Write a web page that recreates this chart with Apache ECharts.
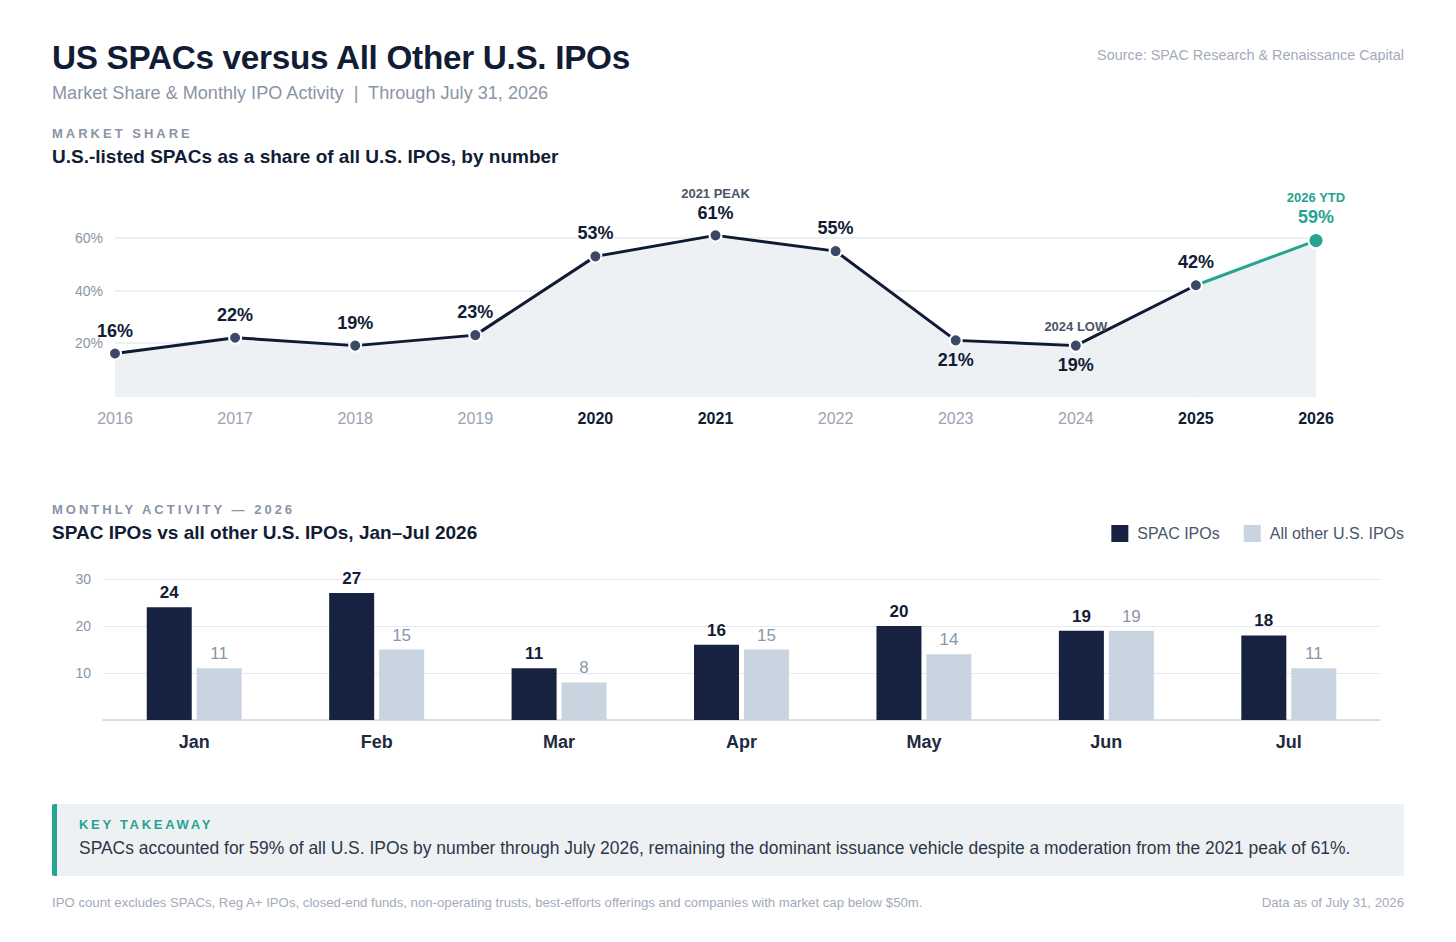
<!DOCTYPE html>
<html>
<head>
<meta charset="utf-8">
<script src="https://cdn.jsdelivr.net/npm/echarts@6/dist/echarts.min.js"></script>
<style>
  html, body { margin: 0; padding: 0; background: #ffffff; }
  body { width: 1456px; height: 942px; position: relative; overflow: hidden;
         font-family: "Liberation Sans", Arial, Helvetica, sans-serif; }
  #chart { position: absolute; left: 0; top: 0; width: 1456px; height: 942px; }
  .t { position: absolute; white-space: nowrap; z-index: 2; }
  #title { left: 52px; top: 38px; font-size: 33.3px; line-height: 40px; font-weight: bold; color: #111c35; letter-spacing: -0.3px; }
  #subtitle { left: 52px; top: 82px; font-size: 18.1px; line-height: 22px; color: #8a94a6; }
  #source { right: 52px; top: 46px; font-size: 14.4px; line-height: 18px; color: #a3abb8; }
  .kicker { font-size: 13px; line-height: 16px; font-weight: bold; color: #8a94a6; letter-spacing: 3px; }
  .h2 { font-size: 19px; line-height: 22px; font-weight: bold; color: #111c35; }
  #k1 { left: 52px; top: 126px; }
  #h1 { left: 52px; top: 146px; }
  #k2 { left: 52px; top: 502px; }
  #h2b { left: 52px; top: 522px; }
  #box { position: absolute; left: 52px; top: 804px; width: 1352px; height: 72px; background: #eef1f4;
         border-left: 5px solid #26a491; box-sizing: border-box; z-index: 1; border-radius: 2px; }
  #ktitle { left: 79px; top: 817px; font-size: 13px; line-height: 16px; font-weight: bold; color: #26a491; letter-spacing: 2.7px; }
  #kbody { left: 79px; top: 837px; font-size: 17.45px; line-height: 22px; color: #2d3748; }
  #foot1 { left: 52px; top: 895px; font-size: 13.2px; line-height: 15px; color: #a3abb8; }
  #foot2 { right: 52px; top: 895px; font-size: 13.2px; line-height: 15px; color: #a3abb8; }
</style>
</head>
<body>
<div id="chart"></div>
<div class="t" id="title">US SPACs versus All Other U.S. IPOs</div>
<div class="t" id="subtitle">Market Share &amp; Monthly IPO Activity &nbsp;|&nbsp; Through July 31, 2026</div>
<div class="t" id="source">Source: SPAC Research &amp; Renaissance Capital</div>
<div class="t kicker" id="k1">MARKET SHARE</div>
<div class="t h2" id="h1">U.S.-listed SPACs as a share of all U.S. IPOs, by number</div>
<div class="t kicker" id="k2">MONTHLY ACTIVITY — 2026</div>
<div class="t h2" id="h2b">SPAC IPOs vs all other U.S. IPOs, Jan–Jul 2026</div>
<div id="box"></div>
<div class="t" id="ktitle">KEY TAKEAWAY</div>
<div class="t" id="kbody">SPACs accounted for 59% of all U.S. IPOs by number through July 2026, remaining the dominant issuance vehicle despite a moderation from the 2021 peak of 61%.</div>
<div class="t" id="foot1">IPO count excludes SPACs, Reg A+ IPOs, closed-end funds, non-operating trusts, best-efforts offerings and companies with market cap below $50m.</div>
<div class="t" id="foot2">Data as of July 31, 2026</div>

<script>
// ---- Data ----
const years = ['2016','2017','2018','2019','2020','2021','2022','2023','2024','2025','2026'];
const spacShare = [16, 22, 19, 23, 53, 61, 55, 21, 19, 42, 59];
const boldYears = ['2020','2021','2025','2026'];
const shareTicks = [0, 20, 40, 60];

const months = ['Jan','Feb','Mar','Apr','May','Jun','Jul'];
const spacIPOs = [24, 27, 11, 16, 20, 19, 18];
const otherIPOs = [11, 15, 8, 15, 14, 19, 11];
const countTicks = [0, 10, 20, 30];

// ---- Styles ----
const FONT = '"Liberation Sans", Arial, Helvetica, sans-serif';
const NAVY = '#0f1a33';
const DOT = '#3b4866';
const TEAL = '#26a491';
const AREA = '#eef1f4';
const GRID = '#e6eaf0';
const AXISGREY = '#8a94a6';

const lastIdx = years.length - 1;
const mainData = spacShare.map((v, i) => {
  if (i === lastIdx) return null;
  const item = { value: v };
  if (years[i] === '2021') {
    item.label = { formatter: '{s|2021 PEAK}\n{v|' + v + '%}', distance: 5 };
  } else if (years[i] === '2023') {
    item.label = { position: 'bottom', distance: 3 };
  } else if (years[i] === '2024') {
    item.label = { position: 'inside', offset: [0, 0], formatter: '{s|2024 LOW}\n{g| }\n{v|' + v + '%}' };
  }
  return item;
});
const ytdData = spacShare.map((v, i) => {
  if (i === lastIdx) {
    return { value: v, symbolSize: 15, itemStyle: { color: TEAL, borderColor: '#fff', borderWidth: 2 },
      label: { show: true, position: 'top', distance: 5,
        formatter: '{s|2026 YTD}\n{v|' + v + '%}',
        rich: { s: { fontSize: 13, fontWeight: 'bold', color: TEAL, lineHeight: 20, fontFamily: FONT },
                v: { fontSize: 18, fontWeight: 'bold', color: TEAL, lineHeight: 20, fontFamily: FONT } } } };
  }
  if (i === lastIdx - 1) return { value: v, symbol: 'none', label: { show: false } };
  return null;
});

const chart = echarts.init(document.getElementById('chart'), null, { renderer: 'svg' });
chart.setOption({
  animation: false,
  textStyle: { fontFamily: FONT },
  legend: {
    data: ['SPAC IPOs', 'All other U.S. IPOs'],
    right: 47, top: 520,
    icon: 'rect', itemWidth: 17, itemHeight: 17, itemGap: 24,
    textStyle: { fontSize: 16, color: '#4a5568', fontFamily: FONT, padding: [0, 0, 0, 4] }
  },
  grid: [
    { left: 115, right: 140, top: 238, height: 157.5, containLabel: false },
    { left: 103, right: 76, top: 579, height: 141, containLabel: false }
  ],
  xAxis: [
    { type: 'category', gridIndex: 0, data: years, boundaryGap: false,
      axisLine: { show: false }, axisTick: { show: false },
      axisLabel: { margin: 15, fontSize: 16,
        formatter: (v) => boldYears.includes(v) ? '{b|' + v + '}' : '{n|' + v + '}',
        rich: { b: { fontSize: 16, fontWeight: 'bold', color: '#111c35', fontFamily: FONT },
                n: { fontSize: 16, color: '#9aa3b2', fontFamily: FONT } } } },
    { type: 'category', gridIndex: 1, data: months,
      axisLine: { show: true, lineStyle: { color: '#cfd7e2', width: 1.5 } }, axisTick: { show: false },
      axisLabel: { margin: 13, fontSize: 18, fontWeight: 'bold', color: '#1f2a3f', fontFamily: FONT } }
  ],
  yAxis: [
    { type: 'value', gridIndex: 0, min: shareTicks[0], max: shareTicks[shareTicks.length - 1], interval: 20,
      axisLine: { show: false }, axisTick: { show: false },
      splitLine: { lineStyle: { color: GRID, width: 1.5 } },
      axisLabel: { margin: 12, fontSize: 14, color: AXISGREY, fontFamily: FONT,
        formatter: (v) => v === 0 ? '' : v + '%' } },
    { type: 'value', gridIndex: 1, min: countTicks[0], max: countTicks[countTicks.length - 1], interval: 10,
      axisLine: { show: false }, axisTick: { show: false },
      splitLine: { lineStyle: { color: GRID, width: 1.2 } },
      axisLabel: { margin: 12, fontSize: 14, color: AXISGREY, fontFamily: FONT,
        formatter: (v) => v === 0 ? '' : String(v) } }
  ],
  series: [
    { name: 'Share', type: 'line', xAxisIndex: 0, yAxisIndex: 0, data: mainData, clip: false,
      symbol: 'circle', symbolSize: 12, z: 3,
      lineStyle: { color: NAVY, width: 3 },
      itemStyle: { color: DOT, borderColor: '#ffffff', borderWidth: 2 },
      areaStyle: { color: AREA, opacity: 1 },
      label: { show: true, position: 'top', distance: 6,
        formatter: (p) => '{v|' + p.value + '%}',
        rich: { v: { fontSize: 18, fontWeight: 'bold', color: '#111c35', lineHeight: 20, fontFamily: FONT },
                s: { fontSize: 13, fontWeight: 'bold', color: '#4a5568', lineHeight: 20, fontFamily: FONT },
                g: { fontSize: 13, lineHeight: 18 } } } },
    { name: 'YTD', type: 'line', xAxisIndex: 0, yAxisIndex: 0, data: ytdData, clip: false,
      symbol: 'circle', symbolSize: 12, z: 2,
      lineStyle: { color: TEAL, width: 3 },
      areaStyle: { color: AREA, opacity: 1 },
      label: { show: false } },
    { name: 'SPAC IPOs', type: 'bar', xAxisIndex: 1, yAxisIndex: 1, data: spacIPOs,
      barWidth: 45, barGap: '11%',
      itemStyle: { color: '#16223f' },
      label: { show: true, position: 'top', distance: 6, fontSize: 17, fontWeight: 'bold', color: '#111c35', fontFamily: FONT } },
    { name: 'All other U.S. IPOs', type: 'bar', xAxisIndex: 1, yAxisIndex: 1, data: otherIPOs,
      barWidth: 45,
      itemStyle: { color: '#c8d4e0' },
      label: { show: true, position: 'top', distance: 6, fontSize: 17, color: '#8a96a8', fontFamily: FONT } }
  ]
});
</script>
</body>
</html>
